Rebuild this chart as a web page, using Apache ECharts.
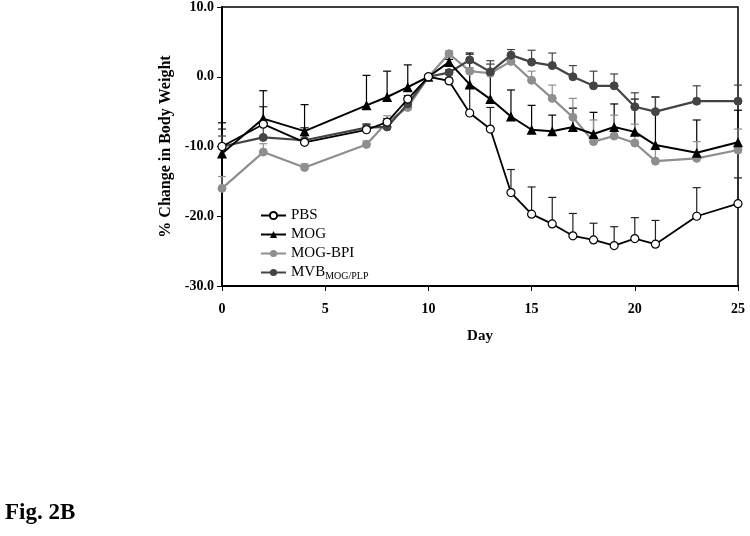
<!DOCTYPE html>
<html>
<head>
<meta charset="utf-8">
<script src="https://cdn.jsdelivr.net/npm/echarts@6/dist/echarts.min.js"></script>
<style>
html,body{margin:0;padding:0;background:#fff;}
#chart{width:750px;height:536px;}
</style>
</head>
<body>
<div id="chart"></div>
<script>
const days = [0,2,4,7,8,9,10,11,12,13,14,15,16,17,18,19,20,21,23,25];
const seriesNames = ['PBS','MOG','MOG-BPI','MVB'];
const pbs    = [-10.0,-6.8,-9.4,-7.6,-6.5,-3.2,0,-0.6,-5.2,-7.5,-16.6,-19.7,-21.1,-22.8,-23.4,-24.2,-23.2,-24.0,-20.0,-18.2];
const pbsErr = [2.5,2.5,2.1,0.8,0.5,0.5,0,0.4,3.7,3.1,3.3,3.9,3.8,3.2,2.4,2.7,3.0,3.4,4.1,3.7];
const mog    = [-11.0,-6.0,-7.8,-4.1,-2.9,-1.5,0,2.1,-1.1,-3.2,-5.7,-7.6,-7.8,-7.2,-8.2,-7.2,-7.9,-9.8,-10.9,-9.4];
const mogErr = [4.4,4.0,3.8,4.3,3.7,3.2,0,0.4,4.5,5.0,3.8,3.5,2.3,2.7,3.1,3.3,4.7,6.9,4.7,4.6];
const bpi    = [-16.0,-10.8,-13.0,-9.7,-6.5,-4.4,0,3.3,0.8,0.5,2.2,-0.5,-3.1,-5.8,-9.3,-8.5,-9.5,-12.1,-11.7,-10.5];
const bpiErr = [1.7,1.2,0.5,0.5,0.9,0.5,0,0.4,0.5,1.3,0.5,1.3,1.9,2.7,3.1,3.0,2.7,2.0,2.4,3.0];
const mvb    = [-10.0,-8.7,-9.1,-7.3,-7.2,-3.9,0,0.6,2.4,0.7,3.1,2.1,1.6,0.0,-1.3,-1.3,-4.3,-5.0,-3.5,-3.5];
const mvbErr = [1.5,1.8,1.8,0.5,0.5,0.5,0,0.4,0.8,1.6,0.8,1.7,1.8,1.6,2.1,1.7,2.0,2.1,2.2,2.3];
const yTicks = [-30,-20,-10,0,10];
const xTicks = [0,5,10,15,20,25];

const serif = '"Liberation Serif", "Times New Roman", serif';
const colors = ['#000000','#000000','#8e8e8e','#444444'];

function pts(vals){ return days.map((d,i)=>[d, vals[i]]); }
function errPts(vals, errs){ return days.map((d,i)=>[d, vals[i], errs[i]]); }

function errSeries(name, vals, errs, color){
  return {
    type:'custom', name: name + '_err', z: 1, silent:true,
    data: errPts(vals, errs),
    renderItem: function(params, api){
      const x = api.value(0), y = api.value(1), e = api.value(2);
      if (!e) return null;
      const p0 = api.coord([x, y]);
      const p1 = api.coord([x, y + e]);
      const st = {stroke: color, lineWidth: 1.2};
      return {type:'group', children:[
        {type:'line', shape:{x1:p0[0], y1:p0[1], x2:p1[0], y2:p1[1]}, style: st},
        {type:'line', shape:{x1:p1[0]-4, y1:p1[1], x2:p1[0]+4, y2:p1[1]}, style: st}
      ]};
    }
  };
}

const chart = echarts.init(document.getElementById('chart'));
chart.setOption({
  animation:false,
  backgroundColor:'#fff',
  grid:{left:222, right:12, top:7, bottom:250, show:true, borderColor:'#000', borderWidth:1.5},
  xAxis:{
    type:'value', min:xTicks[0], max:xTicks[xTicks.length-1], interval:5,
    name:'Day', nameLocation:'middle', nameGap:43,
    nameTextStyle:{fontFamily:serif, fontWeight:'bold', fontSize:15, color:'#000'},
    axisLine:{show:true, onZero:false, lineStyle:{color:'#000', width:2}},
    axisTick:{show:true, inside:false, length:5, lineStyle:{color:'#000', width:1}},
    axisLabel:{fontFamily:serif, fontWeight:'bold', fontSize:14, color:'#000', margin:16},
    splitLine:{show:false}
  },
  yAxis:{
    type:'value', min:yTicks[0], max:yTicks[yTicks.length-1], interval:10,
    name:'% Change in Body Weight', nameLocation:'middle', nameGap:47, nameRotate:90,
    nameTextStyle:{fontFamily:serif, fontWeight:'bold', fontSize:16, color:'#000'},
    axisLine:{show:true, onZero:false, lineStyle:{color:'#000', width:2}},
    axisTick:{show:true, inside:false, length:5, lineStyle:{color:'#000', width:1}},
    axisLabel:{fontFamily:serif, fontWeight:'bold', fontSize:14, color:'#000', margin:8,
      formatter: v => v.toFixed(1)},
    splitLine:{show:false}
  },
  legend:{
    data: seriesNames, orient:'vertical', left:255, top:203, itemGap:4,
    itemWidth:25, itemHeight:9,
    textStyle:{fontFamily:serif, fontSize:15, color:'#000',
      rich:{
        m:{fontFamily:serif, fontSize:15, color:'#000'},
        s:{fontFamily:serif, fontSize:10, color:'#000', padding:[7,0,0,0]}
      }},
    formatter: n => n === 'MVB' ? '{m|MVB}{s|MOG/PLP}' : n
  },
  series:[
    errSeries('PBS', pbs, pbsErr, '#222'),
    errSeries('MOG', mog, mogErr, '#000'),
    errSeries('MOG-BPI', bpi, bpiErr, colors[2]),
    errSeries('MVB', mvb, mvbErr, colors[3]),
    {type:'line', name:'MOG-BPI', data:pts(bpi), z:3, symbol:'circle', symbolSize:8,
      lineStyle:{color:colors[2], width:2.2}, itemStyle:{color:colors[2], borderColor:colors[2]}},
    {type:'line', name:'MVB', data:pts(mvb), z:4, symbol:'circle', symbolSize:8,
      lineStyle:{color:colors[3], width:2.2}, itemStyle:{color:colors[3], borderColor:colors[3]}},
    {type:'line', name:'MOG', data:pts(mog), z:5, symbol:'triangle', symbolSize:10,
      lineStyle:{color:colors[1], width:2}, itemStyle:{color:colors[1]}},
    {type:'line', name:'PBS', data:pts(pbs), z:6, symbol:'circle', symbolSize:8,
      lineStyle:{color:colors[0], width:1.8}, itemStyle:{color:'#fff', borderColor:'#000', borderWidth:1.2}}
  ],
  graphic:[
    {type:'text', left:5, top:502, style:{text:'Fig. 2B', fontFamily:serif, fontWeight:'bold', fontSize:23, fill:'#000'}}
  ]
});
</script>
</body>
</html>
